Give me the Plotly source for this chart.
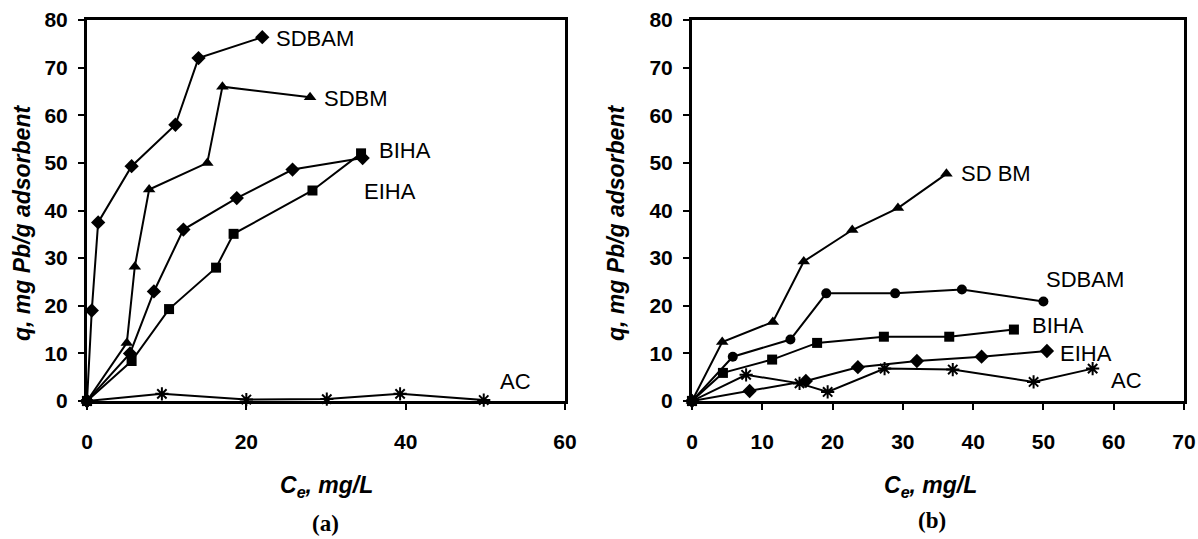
import plotly.graph_objects as go

# ---------- Panel (a) data ----------
a_sdbam_x = [0, 0.6, 1.4, 5.6, 11.1, 14.0, 22.0]
a_sdbam_y = [0, 19.0, 37.5, 49.3, 58.0, 72.0, 76.4]
a_sdbm_x = [0, 5.0, 6.0, 7.8, 15.1, 17.0, 28.0]
a_sdbm_y = [0, 12.2, 28.2, 44.4, 50.0, 66.0, 63.8]
a_biha_x = [0, 5.6, 10.3, 16.2, 18.4, 28.3, 34.4]
a_biha_y = [0, 8.4, 19.3, 28.0, 35.1, 44.2, 52.0]
a_eiha_x = [0, 5.4, 8.4, 12.1, 18.8, 25.8, 34.6]
a_eiha_y = [0, 10.0, 23.0, 36.0, 42.6, 48.6, 51.0]
a_ac_x = [0, 9.4, 20.0, 30.1, 39.3, 49.8]
a_ac_y = [0, 1.5, 0.3, 0.4, 1.5, 0.2]

# ---------- Panel (b) data ----------
b_sdbm_x = [0, 4.3, 11.5, 15.9, 22.8, 29.3, 36.2]
b_sdbm_y = [0, 12.4, 16.6, 29.3, 35.9, 40.5, 47.7]
b_sdbam_x = [0, 5.8, 14.0, 19.1, 28.9, 38.4, 50.0]
b_sdbam_y = [0, 9.3, 12.9, 22.6, 22.6, 23.4, 20.9]
b_biha_x = [0, 4.4, 11.4, 17.8, 27.3, 36.6, 45.8]
b_biha_y = [0, 5.9, 8.7, 12.2, 13.5, 13.5, 15.0]
b_eiha_x = [0, 8.2, 16.2, 23.6, 32.0, 41.2, 50.5]
b_eiha_y = [0, 2.1, 4.2, 7.1, 8.4, 9.3, 10.5]
b_ac_x = [0, 7.7, 15.3, 19.3, 27.4, 37.1, 48.6, 57.0]
b_ac_y = [0, 5.5, 3.7, 1.9, 6.8, 6.6, 4.0, 6.8]

x_ticks_a = [0, 20, 40, 60]
x_ticks_b = [0, 10, 20, 30, 40, 50, 60, 70]
y_ticks = [0, 10, 20, 30, 40, 50, 60, 70, 80]

# labels: (text, x, y) per panel
labels_a = [("SDBAM", 23.5, 76.2), ("SDBM", 29.5, 63.6), ("BIHA", 36.4, 52.5),
            ("EIHA", 34.5, 44.0), ("AC", 51.6, 4.2)]
labels_b = [("SD BM", 38.0, 47.7), ("SDBAM", 50.1, 25.6), ("BIHA", 48.1, 15.8),
            ("EIHA", 52.1, 9.9), ("AC", 59.3, 4.3)]

fig = go.Figure()

def add(x, y, symbol, size, xa, ya):
    fig.add_trace(go.Scatter(
        x=x, y=y, mode="lines+markers", xaxis=xa, yaxis=ya,
        line=dict(color="black", width=2),
        marker=dict(symbol=symbol, size=size, color="black",
                    line=dict(color="black", width=2 if "asterisk" in symbol else 0)),
        cliponaxis=False, showlegend=False))

add(a_sdbam_x, a_sdbam_y, "diamond", 11, "x", "y")
add(a_sdbm_x, a_sdbm_y, "triangle-up", 11, "x", "y")
add(a_biha_x, a_biha_y, "square", 10, "x", "y")
add(a_eiha_x, a_eiha_y, "diamond", 11, "x", "y")
add(a_ac_x, a_ac_y, "asterisk-open", 11, "x", "y")

add(b_sdbm_x, b_sdbm_y, "triangle-up", 11, "x2", "y2")
add(b_sdbam_x, b_sdbam_y, "circle", 10, "x2", "y2")
add(b_biha_x, b_biha_y, "square", 10, "x2", "y2")
add(b_eiha_x, b_eiha_y, "diamond", 11, "x2", "y2")
add(b_ac_x, b_ac_y, "asterisk-open", 11, "x2", "y2")

tickfont = dict(family="Liberation Sans", size=21, color="black", weight="bold")
axis_common = dict(showline=True, linecolor="black", linewidth=3, mirror=True,
                   ticks="outside", ticklen=6, tickwidth=2, tickcolor="black",
                   showgrid=False, zeroline=False, tickfont=tickfont, automargin=False,
                   ticklabeloverflow="allow")

W, H = 1198, 539

def fx(X):
    return X / W

def fy(Y):
    return (H - Y) / H

ya_dom = [fy(401), fy(20)]
fig.update_layout(
    width=W, height=H,
    margin=dict(l=0, r=0, t=0, b=0),
    paper_bgcolor="white", plot_bgcolor="white",
    hovermode=False,
    xaxis=dict(domain=[fx(87), fx(565)], range=[0, 60], tickvals=x_ticks_a,
               ticklabelstandoff=14, anchor="y", **axis_common),
    yaxis=dict(domain=ya_dom, range=[0, 80], tickvals=y_ticks, anchor="x",
               ticklabelstandoff=6, **axis_common),
    xaxis2=dict(domain=[fx(692), fx(1184)], range=[0, 70], tickvals=x_ticks_b,
                ticklabelstandoff=14, anchor="y2", **axis_common),
    yaxis2=dict(domain=ya_dom, range=[0, 80], tickvals=y_ticks, anchor="x2",
                ticklabelstandoff=6, **axis_common),
)

lab_font = dict(family="Liberation Sans", size=22, color="black")
for t, x, y in labels_a:
    fig.add_annotation(text=t, x=x, y=y, xref="x", yref="y", showarrow=False,
                       xanchor="left", yanchor="middle", font=lab_font)
for t, x, y in labels_b:
    fig.add_annotation(text=t, x=x, y=y, xref="x2", yref="y2", showarrow=False,
                       xanchor="left", yanchor="middle", font=lab_font)

title_font = dict(family="Liberation Sans", size=23, color="black", weight="bold",
                  style="italic")
ytitle = "q, mg Pb/g adsorbent"
xtitle = "C<sub>e</sub>, mg/L"
for cx, px in [(22, 326), (616, 930)]:
    fig.add_annotation(text=ytitle, x=fx(cx), y=fy(223), xref="paper", yref="paper",
                       showarrow=False, textangle=-90, font=title_font,
                       xanchor="center", yanchor="middle")
    fig.add_annotation(text=xtitle, x=fx(px), y=fy(486), xref="paper", yref="paper",
                       showarrow=False, font=title_font, xanchor="center", yanchor="middle")

panel_font = dict(family="Liberation Serif", size=23, color="black", weight="bold")
fig.add_annotation(text="(a)", x=fx(325), y=fy(523), xref="paper", yref="paper",
                   showarrow=False, font=panel_font, xanchor="center", yanchor="middle")
fig.add_annotation(text="(b)", x=fx(932), y=fy(520), xref="paper", yref="paper",
                   showarrow=False, font=panel_font, xanchor="center", yanchor="middle")

# remove the default 8px page margin so the figure fills the window exactly
fig.write_html("out.html", config={"displayModeBar": False},
               post_script="document.body.style.margin='0';")
